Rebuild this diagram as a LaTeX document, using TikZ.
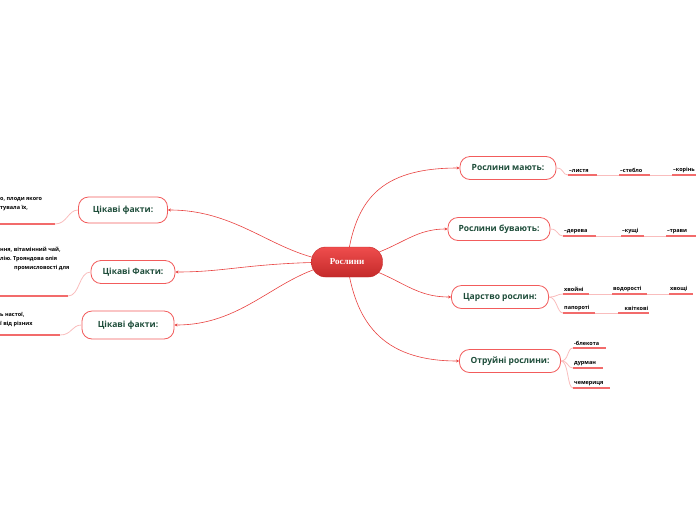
\documentclass[tikz,border=0pt]{standalone}
\usepackage{fontspec}
\setmainfont{Liberation Serif}
\setsansfont{Open Sans}
\usepackage{tikz}
\usetikzlibrary{arrows.meta, backgrounds}
\definecolor{roslred}{HTML}{E8413F}
\definecolor{roslborder}{HTML}{F25C5C}
\definecolor{roslgreen}{HTML}{1E4D3A}
\definecolor{roslleaf}{HTML}{F26B6B}
\definecolor{roslfaint}{HTML}{F9BDBD}
\definecolor{roslroottop}{HTML}{EF4D4D}
\definecolor{roslrootbot}{HTML}{C42A2A}
\frenchspacing

\begin{document}
\begin{tikzpicture}[x=1pt, y=-1pt,
    topic/.style={draw=roslborder, line width=0.8pt, rounded corners=10pt, fill=white,
      minimum height=23pt, font=\sffamily\bfseries\fontsize{8.5}{10}\selectfont, text=roslgreen},
    root/.style={rounded corners=14pt, minimum width=71pt, minimum height=30pt,
      top color=roslroottop, bottom color=roslrootbot, draw=roslrootbot,
      font=\rmfamily\bfseries\fontsize{9}{10}\selectfont, text=white},
    leaf/.style={anchor=south west, inner xsep=1pt, inner ysep=2pt, text width=#1,
      font=\sffamily\bfseries\fontsize{5.5}{6}\selectfont},
    note/.style={anchor=north west, inner sep=0pt, align=left,
      font=\sffamily\bfseries\fontsize{5.5}{9}\selectfont},
    branch/.style={roslred, line width=0.6pt, -{Stealth[length=3pt, width=3pt]}},
    twig/.style={roslfaint, line width=0.8pt},
    under/.style={roslleaf, line width=1.6pt}]
  \useasboundingbox (0,0) rectangle (696,520);
  \clip (0,0) rectangle (696,520);

  \node[root] (roslyny) at (347,262) {Рослини};

  \node[topic, minimum width=96pt] (maiut) at (508,168) {Рослини мають:};
  \node[topic, minimum width=102pt] (buvaiut) at (499,229) {Рослини бувають:};
  \node[topic, minimum width=97pt] (tsarstvo) at (500,297) {Царство рослин:};
  \node[topic, minimum width=101pt] (otruini) at (510,361) {Отруйні рослини:};
  \node[topic, minimum width=89pt, minimum height=26pt] (fakt1) at (123,210) {Цікаві факти:};
  \node[topic, minimum width=84pt] (fakt2) at (133,272) {Цікаві Факти:};
  \node[topic, minimum width=92pt, minimum height=28pt] (fakt3) at (128,325) {Цікаві факти:};

  \node[leaf=27pt] (lystia) at (568,175) {–листя};
  \node[leaf=29pt] (steblo) at (619,175) {–стебло};
  \node[leaf=28pt] (korin) at (672,175) {–корінь};

  \node[leaf=31pt] (dereva) at (563,236) {–дерева};
  \node[leaf=21pt] (kushchi) at (621,236) {–кущі};
  \node[leaf=28pt] (travy) at (666,236) {–трави};

  \node[leaf=24pt] (khvoini) at (563,294) {хвойні};
  \node[leaf=33pt] (vodorosti) at (612,294) {водорості};
  \node[leaf=22pt] (khvoshchi) at (669,294) {хвощі};
  \node[leaf=30pt] (paporoti) at (563,313) {папороті};
  \node[leaf=29pt, align=right] (kvitkovi) at (618,313) {квіткові};

  \node[leaf=31pt] (blekota) at (573,348) {-блекота};
  \node[leaf=28pt] (durman) at (573,368) {дурман};
  \node[leaf=35pt] (chemerytsia) at (573,388) {чемериця};

  \node[note] (nota1) at (0,197) {о, плоди якого\\тувала їх,};
  \node[note] (nota2) at (0,247) {ння, вітамінний чай,\\лію. Трояндова олія};
  \node[note] (nota2b) at (14,265) {промисловості для};
  \node[note] (nota3) at (0,312) {ь настої,\\ї від різних};
  \coordinate (nota1l) at (0,224);
  \coordinate (nota1r) at (55,224);
  \coordinate (nota2l) at (0,296);
  \coordinate (nota2r) at (68,296);
  \coordinate (nota3l) at (0,335);
  \coordinate (nota3r) at (60,335);

  \begin{scope}[on background layer]
    \draw[branch] (roslyny.center) .. controls (355,200) and (380,168) .. (maiut.west);
    \draw[branch] (roslyny.center) .. controls (400,250) and (410,229) .. (buvaiut.west);
    \draw[branch] (roslyny.center) .. controls (400,275) and (410,297) .. (tsarstvo.west);
    \draw[branch] (roslyny.center) .. controls (355,320) and (380,361) .. (otruini.west);
    \draw[branch] (roslyny.center) .. controls (280,262) and (245,210) .. (fakt1.east);
    \draw[branch] (roslyny.center) .. controls (250,262) and (230,272) .. (fakt2.east);
    \draw[branch] (roslyny.center) .. controls (280,268) and (250,325) .. (fakt3.east);
  \end{scope}

  \draw[twig] (maiut.east) .. controls +(8,0) and +(-6,0) .. (lystia.south west);
  \draw[twig] (lystia.south east) -- (steblo.south west);
  \draw[twig] (steblo.south east) -- (korin.south west);
  \draw[twig] (buvaiut.east) .. controls +(8,0) and +(-6,0) .. (dereva.south west);
  \draw[twig] (dereva.south east) -- (kushchi.south west);
  \draw[twig] (kushchi.south east) -- (travy.south west);
  \draw[twig] (tsarstvo.east) .. controls +(8,0) and +(-6,0) .. (khvoini.south west);
  \draw[twig] (tsarstvo.east) .. controls +(8,0) and +(-6,0) .. (paporoti.south west);
  \draw[twig] (khvoini.south east) -- (vodorosti.south west);
  \draw[twig] (vodorosti.south east) -- (khvoshchi.south west);
  \draw[twig] (paporoti.south east) -- (kvitkovi.south west);
  \draw[twig] (otruini.east) .. controls +(8,0) and +(-6,0) .. (blekota.south west);
  \draw[twig] (otruini.east) .. controls +(8,0) and +(-6,0) .. (durman.south west);
  \draw[twig] (otruini.east) .. controls +(8,0) and +(-6,0) .. (chemerytsia.south west);
  \draw[twig] (fakt1.west) .. controls +(-10,0) and +(12,0) .. (nota1r);
  \draw[twig] (fakt2.west) .. controls +(-12,0) and +(12,0) .. (nota2r);
  \draw[twig] (fakt3.west) .. controls +(-10,0) and +(12,0) .. (nota3r);

  \foreach \l in {lystia, steblo, korin, dereva, kushchi, travy, khvoini, vodorosti,
      khvoshchi, paporoti, kvitkovi, blekota, durman, chemerytsia}
    \draw[under] (\l.south west) -- (\l.south east);
  \draw[under] (nota1l) -- (nota1r);
  \draw[under] (nota2l) -- (nota2r);
  \draw[under] (nota3l) -- (nota3r);
\end{tikzpicture}
\end{document}
